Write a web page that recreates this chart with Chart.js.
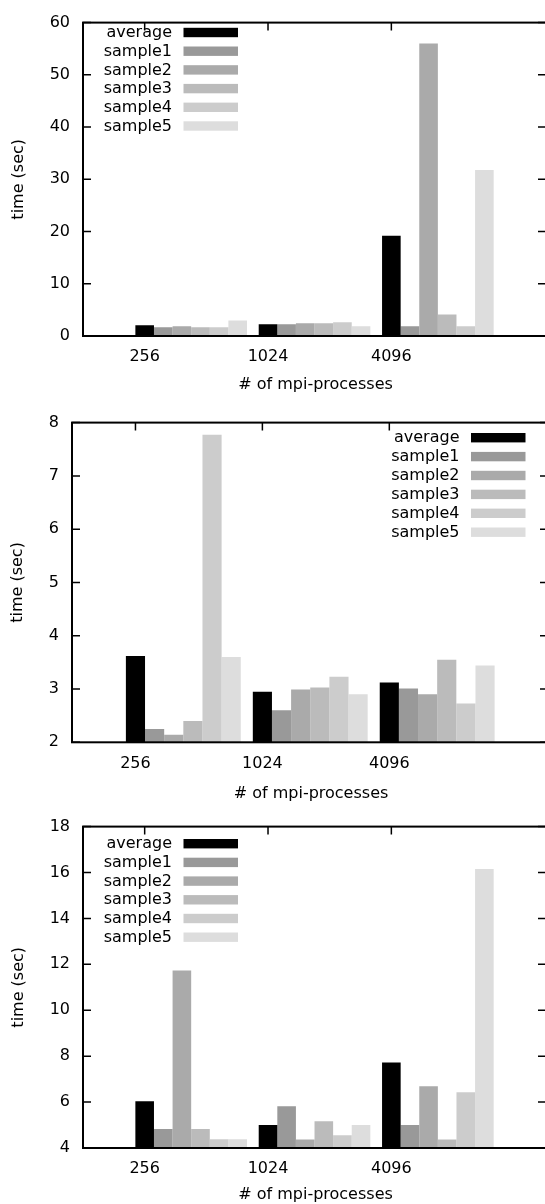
<!DOCTYPE html>
<html>
<head>
<meta charset="utf-8">
<script src="https://cdn.jsdelivr.net/npm/chart.js@4.4.0/dist/chart.umd.min.js"></script>
<style>
  html, body { margin: 0; padding: 0; background: #fff; width: 545px; height: 1204px; overflow: hidden; }
  .panel { position: absolute; left: 0; width: 545px; overflow: hidden; }
</style>
</head>
<body>
<div class="panel" style="top:0; height:400px"><canvas id="run1" width="560" height="400"></canvas></div>
<div class="panel" style="top:400px; height:404px"><canvas id="run2" width="560" height="404"></canvas></div>
<div class="panel" style="top:804px; height:400px"><canvas id="run3" width="560" height="400"></canvas></div>
<script>
const processes = ["256", "1024", "4096"];
const seriesNames = ["average", "sample1", "sample2", "sample3", "sample4", "sample5"];
const seriesColors = ["#000000", "#999999", "#aaaaaa", "#bbbbbb", "#cccccc", "#dddddd"];

// time (sec): one row per series, one column per process count
const run1Times = [
    [2.06, 2.24, 19.2],
    [1.68, 2.24, 1.87],
    [1.87, 2.43, 56.0],
    [1.68, 2.43, 4.1],
    [1.68, 2.62, 1.87],
    [2.99, 1.87, 31.8],
];
const run2Times = [
    [3.62, 2.95, 3.12],
    [2.25, 2.60, 3.01],
    [2.14, 2.99, 2.90],
    [2.40, 3.03, 3.55],
    [7.77, 3.23, 2.73],
    [3.60, 2.90, 3.44],
];
const run3Times = [
    [6.04, 5.00, 7.72],
    [4.83, 5.82, 5.00],
    [11.73, 4.37, 6.69],
    [4.83, 5.17, 4.37],
    [4.38, 4.56, 6.43],
    [4.38, 5.00, 16.15],
];

// y axis: min, max, step
const run1Range = [0, 60, 10];
const run2Range = [2, 8, 1];
const run3Range = [4, 18, 2];

Chart.defaults.font.family = "'DejaVu Sans'";
Chart.defaults.font.size = 16;
Chart.defaults.color = "#000";

const groupWidth = 0.905;
const groupShift = groupWidth * 5 / 12; // puts the first bar of a group on the tick

// gnuplot style frame with inward ticks
const framePlugin = {
    id: "frame",
    beforeDatasetsDraw(chart) {
        const { ctx, chartArea: a, scales: { x, y } } = chart;
        ctx.save();
        ctx.strokeStyle = "#000";
        ctx.lineWidth = 1.5;
        ctx.beginPath();
        y.ticks.forEach(t => {
            const py = y.getPixelForValue(t.value);
            ctx.moveTo(a.left, py); ctx.lineTo(a.left + 8, py);
            ctx.moveTo(a.right, py); ctx.lineTo(a.right - 10, py);
        });
        x.ticks.forEach(t => {
            const px = x.getPixelForValue(t.value);
            ctx.moveTo(px, a.top); ctx.lineTo(px, a.top + 8);
            ctx.moveTo(px, a.bottom); ctx.lineTo(px, a.bottom - 8);
        });
        ctx.stroke();
        ctx.restore();
    },
    afterDatasetsDraw(chart) {
        const { ctx, chartArea: a } = chart;
        ctx.save();
        ctx.strokeStyle = "#000";
        ctx.lineWidth = 2;
        ctx.strokeRect(a.left, a.top, a.right - a.left, a.bottom - a.top);
        ctx.restore();
    }
};

// key: text right aligned, colour box on the right
const keyPlugin = {
    id: "key",
    afterDraw(chart, args, opts) {
        const ctx = chart.ctx;
        ctx.save();
        ctx.font = "16px 'DejaVu Sans'";
        ctx.textAlign = "right";
        ctx.textBaseline = "middle";
        chart.data.datasets.forEach((ds, i) => {
            const y = opts.top + i * opts.step;
            ctx.fillStyle = "#000";
            ctx.fillText(ds.label, opts.boxLeft - 11.5, y + 0.5);
            ctx.fillStyle = ds.backgroundColor;
            ctx.fillRect(opts.boxLeft, y - 4.7, 54.5, 9.4);
        });
        ctx.restore();
    }
};

const makeChart = (id, times, range, lay) => {
    const datasets = times.map((row, s) => ({
        label: seriesNames[s],
        data: row.map((v, i) => ({ x: i + groupShift, y: v })),
        backgroundColor: seriesColors[s],
        borderWidth: 0,
        clip: 0,
    }));

    new Chart(document.getElementById(id), {
        type: "bar",
        data: { datasets },
        plugins: [framePlugin, keyPlugin],
        options: {
            responsive: false,
            animation: false,
            devicePixelRatio: 1,
            categoryPercentage: groupWidth,
            barPercentage: 1,
            layout: { padding: { top: lay.top, right: lay.right, left: 0, bottom: 0 } },
            plugins: {
                legend: { display: false },
                tooltip: { enabled: false },
                key: lay.key,
            },
            scales: {
                x: {
                    type: "linear",
                    min: -0.5,
                    max: lay.xMax,
                    offset: false,
                    grid: { display: false, drawTicks: false },
                    border: { display: false },
                    afterBuildTicks: scale => {
                        scale.ticks = processes.map((p, i) => ({ value: i }));
                    },
                    afterFit: scale => { scale.height = lay.axisHeight; },
                    ticks: {
                        padding: 11.5,
                        maxRotation: 0,
                        autoSkip: false,
                        callback: (v, i) => processes[i],
                    },
                    title: {
                        display: true,
                        text: "# of mpi-processes",
                        padding: { top: 0, bottom: lay.xTitlePad },
                    },
                },
                y: {
                    min: range[0],
                    max: range[1],
                    grid: { display: false, drawTicks: false },
                    border: { display: false },
                    afterFit: scale => { scale.width = lay.left; },
                    ticks: { stepSize: range[2], padding: 13 },
                    title: {
                        display: true,
                        text: "time (sec)",
                        padding: { top: lay.yTitlePad, bottom: 0 },
                    },
                },
            },
        },
    });
};

makeChart("run1", run1Times, run1Range, {
    top: 15, left: 83, right: 12, xMax: 3.27, axisHeight: 64, xTitlePad: 5.4, yTitlePad: 9.5,
    key: { boxLeft: 183.5, top: 32.5, step: 18.7 },
});
makeChart("run2", run2Times, run2Range, {
    top: 19.3, left: 72, right: 10, xMax: 3.266, axisHeight: 61.7, xTitlePad: 0.4, yTitlePad: 7.8,
    key: { boxLeft: 471, top: 37.7, step: 18.9 },
});
makeChart("run3", run3Times, run3Range, {
    top: 21.7, left: 83, right: 12, xMax: 3.27, axisHeight: 56, xTitlePad: 0, yTitlePad: 9.5,
    key: { boxLeft: 183.5, top: 39.7, step: 18.7 },
});
</script>
</body>
</html>
